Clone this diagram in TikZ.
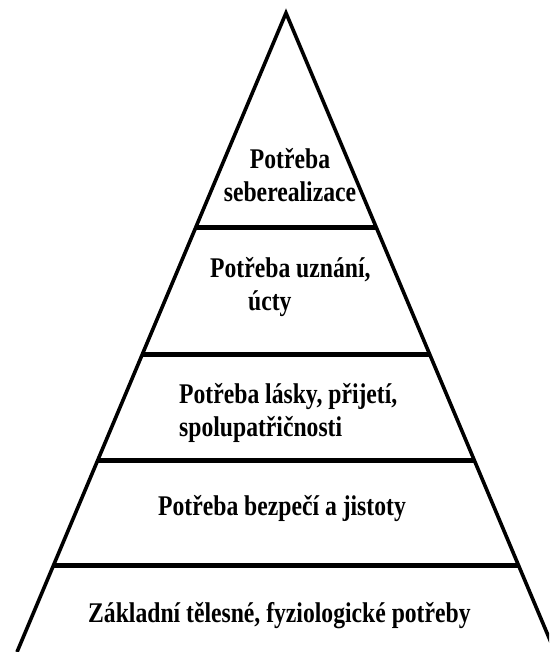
\documentclass[tikz,border=0pt]{standalone}
\usepackage{fontspec}
\setmainfont{Liberation Serif}[FakeStretch=0.83]
\usetikzlibrary{calc}
\tikzset{
  side/.style={line width=3.6pt, line join=miter},
  tier/.style={line width=5pt},
  lbl/.style={font=\fontsize{28.5}{33}\selectfont\bfseries, inner sep=0pt, text=black},
}

\begin{document}
\begin{tikzpicture}[x=1pt, y=-1pt]
    \useasboundingbox (0,0) rectangle (549,652);
    \clip (0,0) rectangle (549,652);
    % outline of the pyramid
    \coordinate (top) at (286,13);
    \coordinate (bl) at (17,652);
    \coordinate (br) at (555,652);
    \draw[side] (bl) -- (top) -- (br);
    % dividing lines
    \foreach \t [count=\i] in {0.336, 0.535, 0.700, 0.865} {
      \draw[tier] ($(top)!\t!(bl)$) -- ($(top)!\t!(br)$);
    }
    % labels (base = last line)
    \node[lbl, align=center, anchor=base] (self) at (290,202) {Potřeba\\seberealizace};
    \node[lbl, align=left, anchor=base west] (esteem) at (210,310) {Potřeba uznání,\\\hspace*{38pt}úcty};
    \node[lbl, align=left, anchor=base west] (love) at (179,436) {Potřeba lásky, přijetí,\\spolupatřičnosti};
    \node[lbl, anchor=base west] (safety) at (158,515) {Potřeba bezpečí a jistoty};
    \node[lbl, anchor=base west] (body) at (88,622) {Základní tělesné, fyziologické potřeby};
  \end{tikzpicture}
\end{document}
